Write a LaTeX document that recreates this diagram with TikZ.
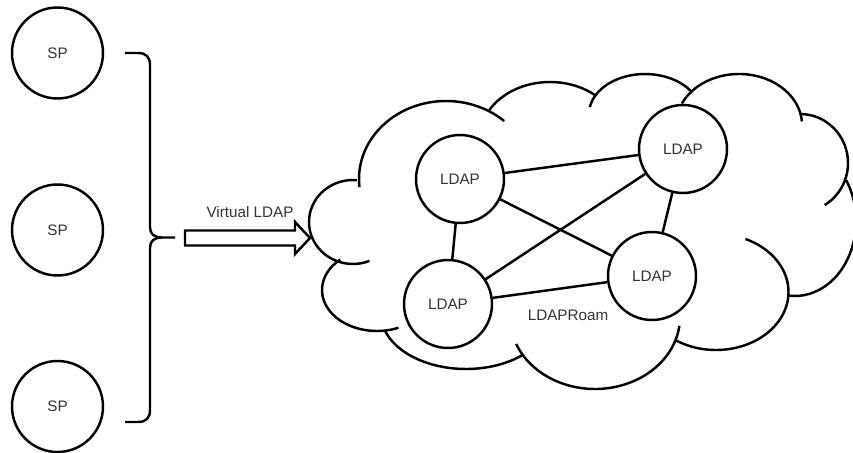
\documentclass[tikz,border=0pt]{standalone}
\usepackage{fontspec}
\setmainfont{Liberation Sans}
\usepackage{tikz}

\begin{document}
\begin{tikzpicture}[x=0.03cm,y=-0.03cm,line width=2.1pt,
    sp/.style={draw,circle,minimum size=2.73cm,inner sep=0pt,text=black!80,font=\fontsize{13}{15}\selectfont},
    ldap/.style={draw,circle,minimum size=2.64cm,inner sep=0pt,text=black!80,font=\fontsize{13}{15}\selectfont},
    lbl/.style={inner sep=0pt,text=black!80,font=\fontsize{13}{15}\selectfont}]
            \useasboundingbox (0,0) rectangle (853,452);
            \node[sp] (sp1) at (57.5,53) {SP};
            \node[sp] (sp2) at (57.5,230) {SP};
            \node[sp] (sp3) at (57.5,406.5) {SP};
            \coordinate (tip) at (162,237.5);
            \draw (125,53) -- (138,53) .. controls (146,53) and (150,57) .. (150,65) -- (150,227) .. controls (150,234) and (154,237.5) .. (tip) -- (175,237.5);
            \draw (tip) .. controls (154,237.5) and (150,241) .. (150,248) -- (150,410) .. controls (150,418) and (146,422) .. (138,422) -- (125,422);
            \draw (185,230.5) -- (295,230.5) -- (295,222) -- (310,238) -- (295,254) -- (295,245.5) -- (185,245.5) -- cycle;
            \node[lbl] (vl) at (250,212) {Virtual LDAP};
            \draw (446,179) ++(174:87 and 78) arc[start angle=174,end angle=312,x radius=87,y radius=78];
            \draw (353,222) ++(275:44 and 42) arc[start angle=275,end angle=68,x radius=44,y radius=42];
            \draw (377,290) ++(228:55 and 41) arc[start angle=228,end angle=67,x radius=55,y radius=41];
            \draw (466,314) ++(162:85 and 55) arc[start angle=162,end angle=48,x radius=85,y radius=55];
            \draw (595,317) ++(158:85 and 72) arc[start angle=158,end angle=7,x radius=85,y radius=72];
            \draw (716,292) ++(124:72.5 and 58) arc[start angle=124,end angle=-66,x radius=72.5,y radius=58];
            \draw (795,221) ++(-33:61 and 75) arc[start angle=-33,end angle=96,x radius=61,y radius=75];
            \draw (800,163) ++(-90:48 and 49) arc[start angle=-90,end angle=59,x radius=48,y radius=49];
            \draw (739,125) ++(205:63 and 51) arc[start angle=205,end angle=356,x radius=63,y radius=51];
            \draw (645,114) ++(190:56 and 40) arc[start angle=190,end angle=325,x radius=56,y radius=40];
            \draw (550,138) ++(210:70 and 56) arc[start angle=210,end angle=311,x radius=70,y radius=56];
            \node[ldap] (nw) at (460,179) {LDAP};
            \node[ldap] (ne) at (683,149) {LDAP};
            \node[ldap] (sw) at (448,304) {LDAP};
            \node[ldap] (se) at (652,276) {LDAP};
            \draw (nw) -- (ne);
            \draw (nw) -- (se);
            \draw (nw) -- (sw);
            \draw (sw) -- (ne);
            \draw (sw) -- (se);
            \draw (ne) -- (se);
            \node[lbl] (roam) at (568,315) {LDAPRoam};
        \end{tikzpicture}
\end{document}
